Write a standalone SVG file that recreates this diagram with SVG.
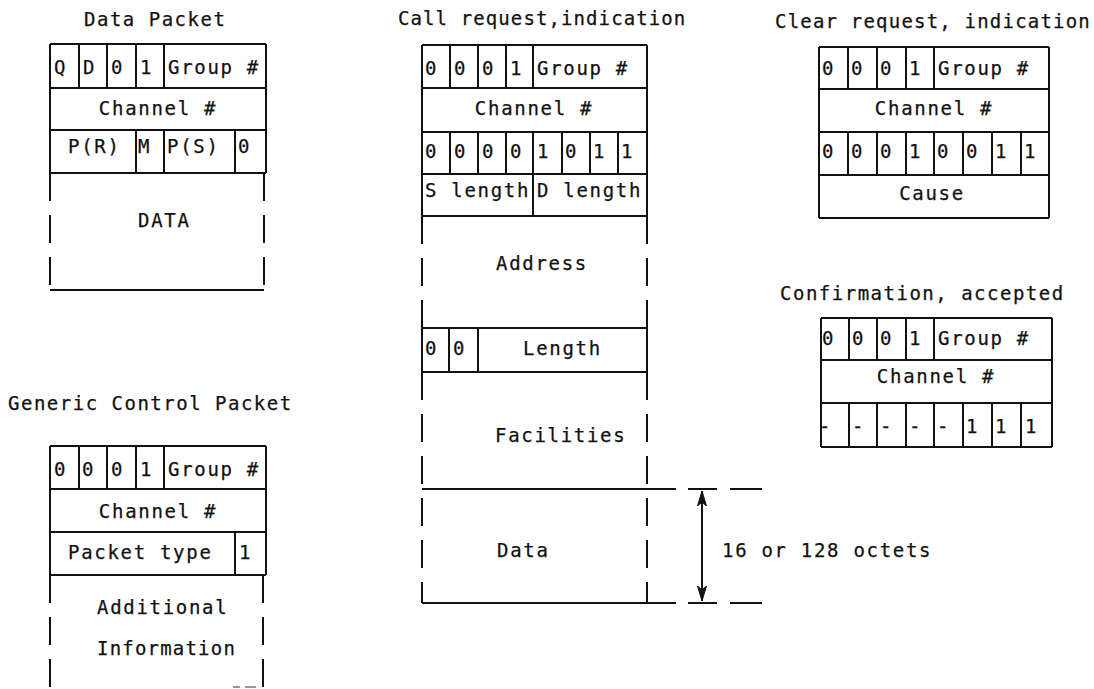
<svg xmlns="http://www.w3.org/2000/svg" width="1094" height="689" viewBox="0 0 1094 689">
<defs>
<style>
text{font-family:"DejaVu Sans Mono","Liberation Mono",monospace;font-size:19px;fill:#111;letter-spacing:1.7px;stroke:#111;stroke-width:0.25}
.t{letter-spacing:1.5px}
.c{text-anchor:middle}
line,path{stroke:#111;stroke-width:2;fill:none}
.d{stroke-dasharray:28 14}
</style>
<marker id="ah" viewBox="0 0 16 10" refX="15" refY="5" markerWidth="16" markerHeight="10" markerUnits="userSpaceOnUse" orient="auto">
<path d="M0,0.5 L15,5 L0,9.5 L4,5 Z" style="stroke:#111;stroke-width:1;fill:#111"/>
</marker>
</defs>
<rect width="1094" height="689" fill="#fff"/>

<g id="data-packet">
<text class="t" x="84" y="26">Data Packet</text>
<line x1="50" y1="44" x2="266" y2="44"/>
<line x1="50" y1="88" x2="266" y2="88"/>
<line x1="50" y1="130" x2="266" y2="130"/>
<line x1="50" y1="173" x2="266" y2="173"/>
<line x1="50" y1="44" x2="50" y2="173"/>
<line x1="266" y1="44" x2="266" y2="173"/>
<line x1="79" y1="44" x2="79" y2="88"/>
<line x1="107" y1="44" x2="107" y2="88"/>
<line x1="136" y1="44" x2="136" y2="88"/>
<line x1="164" y1="44" x2="164" y2="88"/>
<line x1="136" y1="130" x2="136" y2="173"/>
<line x1="164" y1="130" x2="164" y2="173"/>
<line x1="235" y1="130" x2="235" y2="173"/>
<line class="d" x1="50" y1="173" x2="50" y2="290"/>
<line class="d" x1="264" y1="173" x2="264" y2="290"/>
<line x1="50" y1="290" x2="264" y2="290"/>
<text x="54" y="74">Q</text><text x="83" y="74">D</text><text x="111" y="74">0</text><text x="140" y="74">1</text><text x="168" y="74">Group #</text>
<text class="c" x="158" y="115">Channel #</text>
<text x="68" y="153">P(R)</text><text x="138" y="153">M</text><text x="167" y="153">P(S)</text><text x="238" y="153">0</text>
<text x="138" y="227">DATA</text>
</g>

<g id="generic-control-packet">
<text class="t" x="8" y="410">Generic Control Packet</text>
<line x1="50" y1="446" x2="266" y2="446"/>
<line x1="50" y1="489" x2="266" y2="489"/>
<line x1="50" y1="532" x2="266" y2="532"/>
<line x1="50" y1="575" x2="266" y2="575"/>
<line x1="50" y1="446" x2="50" y2="575"/>
<line x1="266" y1="446" x2="266" y2="575"/>
<line x1="79" y1="446" x2="79" y2="489"/>
<line x1="107" y1="446" x2="107" y2="489"/>
<line x1="136" y1="446" x2="136" y2="489"/>
<line x1="164" y1="446" x2="164" y2="489"/>
<line x1="235" y1="532" x2="235" y2="575"/>
<line class="d" x1="50" y1="575" x2="50" y2="689"/>
<line class="d" x1="263" y1="575" x2="263" y2="689"/>
<line x1="233" y1="687" x2="240" y2="687" style="stroke:#999"/>
<line x1="245" y1="687" x2="256" y2="687" style="stroke:#999"/>
<text x="54" y="476">0</text><text x="82" y="476">0</text><text x="111" y="476">0</text><text x="140" y="476">1</text><text x="168" y="476">Group #</text>
<text class="c" x="158" y="518">Channel #</text>
<text x="68" y="559">Packet type</text><text x="239" y="559">1</text>
<text x="97" y="614">Additional</text>
<text x="97" y="655" style="letter-spacing:1.2px">Information</text>
</g>

<g id="call-request">
<text class="t" x="398" y="25" style="letter-spacing:1.1px">Call request,indication</text>
<line x1="422" y1="45" x2="647" y2="45"/>
<line x1="422" y1="88" x2="647" y2="88"/>
<line x1="422" y1="132" x2="647" y2="132"/>
<line x1="422" y1="174" x2="647" y2="174"/>
<line x1="422" y1="216" x2="647" y2="216"/>
<line x1="422" y1="45" x2="422" y2="216"/>
<line x1="647" y1="45" x2="647" y2="216"/>
<line x1="450" y1="45" x2="450" y2="88"/>
<line x1="478" y1="45" x2="478" y2="88"/>
<line x1="506" y1="45" x2="506" y2="88"/>
<line x1="533" y1="45" x2="533" y2="88"/>
<line x1="450" y1="132" x2="450" y2="174"/>
<line x1="478" y1="132" x2="478" y2="174"/>
<line x1="506" y1="132" x2="506" y2="174"/>
<line x1="533" y1="132" x2="533" y2="174"/>
<line x1="562" y1="132" x2="562" y2="174"/>
<line x1="590" y1="132" x2="590" y2="174"/>
<line x1="618" y1="132" x2="618" y2="174"/>
<line x1="533" y1="174" x2="533" y2="216"/>
<line class="d" x1="422" y1="216" x2="422" y2="328"/>
<line class="d" x1="647" y1="216" x2="647" y2="328"/>
<line x1="422" y1="328" x2="647" y2="328"/>
<line x1="422" y1="372" x2="647" y2="372"/>
<line x1="422" y1="328" x2="422" y2="372"/>
<line x1="647" y1="328" x2="647" y2="372"/>
<line x1="449" y1="328" x2="449" y2="372"/>
<line x1="478" y1="328" x2="478" y2="372"/>
<line class="d" x1="422" y1="372" x2="422" y2="603"/>
<line class="d" x1="647" y1="372" x2="647" y2="603"/>
<line x1="422" y1="489" x2="676" y2="489"/>
<line x1="422" y1="603" x2="676" y2="603"/>
<text x="425" y="75">0</text><text x="454" y="75">0</text><text x="482" y="75">0</text><text x="510" y="75">1</text><text x="537" y="75">Group #</text>
<text class="c" x="534" y="115">Channel #</text>
<text x="425" y="158">0</text><text x="454" y="158">0</text><text x="482" y="158">0</text><text x="510" y="158">0</text><text x="537" y="158">1</text><text x="565" y="158">0</text><text x="593" y="158">1</text><text x="621" y="158">1</text>
<text x="425" y="197">S length</text><text x="537" y="197">D length</text>
<text x="496" y="270">Address</text>
<text x="425" y="355">0</text><text x="453" y="355">0</text><text x="523" y="355">Length</text>
<text x="495" y="442">Facilities</text>
<text x="497" y="557">Data</text>
</g>

<g id="clear-request">
<text class="t" x="775" y="28" style="letter-spacing:1.2px">Clear request, indication</text>
<line x1="819" y1="47" x2="1049" y2="47"/>
<line x1="819" y1="89" x2="1049" y2="89"/>
<line x1="819" y1="132" x2="1049" y2="132"/>
<line x1="819" y1="175" x2="1049" y2="175"/>
<line x1="819" y1="218" x2="1049" y2="218"/>
<line x1="819" y1="47" x2="819" y2="218"/>
<line x1="1049" y1="47" x2="1049" y2="218"/>
<line x1="848" y1="47" x2="848" y2="89"/>
<line x1="877" y1="47" x2="877" y2="89"/>
<line x1="906" y1="47" x2="906" y2="89"/>
<line x1="934" y1="47" x2="934" y2="89"/>
<line x1="848" y1="132" x2="848" y2="175"/>
<line x1="877" y1="132" x2="877" y2="175"/>
<line x1="906" y1="132" x2="906" y2="175"/>
<line x1="934" y1="132" x2="934" y2="175"/>
<line x1="963" y1="132" x2="963" y2="175"/>
<line x1="992" y1="132" x2="992" y2="175"/>
<line x1="1021" y1="132" x2="1021" y2="175"/>
<text x="822" y="75">0</text><text x="851" y="75">0</text><text x="880" y="75">0</text><text x="909" y="75">1</text><text x="938" y="75">Group #</text>
<text class="c" x="934" y="115">Channel #</text>
<text x="822" y="158">0</text><text x="851" y="158">0</text><text x="880" y="158">0</text><text x="909" y="158">1</text><text x="937" y="158">0</text><text x="966" y="158">0</text><text x="995" y="158">1</text><text x="1024" y="158">1</text>
<text class="c" x="932" y="200">Cause</text>
</g>

<g id="confirmation-accepted">
<text class="t" x="780" y="300">Confirmation, accepted</text>
<line x1="821" y1="318" x2="1052" y2="318"/>
<line x1="821" y1="360" x2="1052" y2="360"/>
<line x1="821" y1="403" x2="1052" y2="403"/>
<line x1="821" y1="447" x2="1052" y2="447"/>
<line x1="821" y1="318" x2="821" y2="447"/>
<line x1="1052" y1="318" x2="1052" y2="447"/>
<line x1="849" y1="318" x2="849" y2="360"/>
<line x1="877" y1="318" x2="877" y2="360"/>
<line x1="906" y1="318" x2="906" y2="360"/>
<line x1="934" y1="318" x2="934" y2="360"/>
<line x1="849" y1="403" x2="849" y2="447"/>
<line x1="877" y1="403" x2="877" y2="447"/>
<line x1="906" y1="403" x2="906" y2="447"/>
<line x1="934" y1="403" x2="934" y2="447"/>
<line x1="963" y1="403" x2="963" y2="447"/>
<line x1="992" y1="403" x2="992" y2="447"/>
<line x1="1021" y1="403" x2="1021" y2="447"/>
<text x="822" y="345">0</text><text x="852" y="345">0</text><text x="880" y="345">0</text><text x="909" y="345">1</text><text x="938" y="345">Group #</text>
<text class="c" x="936" y="383">Channel #</text>
<text x="819" y="433">-</text><text x="852" y="433">-</text><text x="880" y="433">-</text><text x="909" y="433">-</text><text x="937" y="433">-</text><text x="966" y="433">1</text><text x="995" y="433">1</text><text x="1025" y="433">1</text>
</g>

<g id="connectors">
<line x1="688" y1="489" x2="717" y2="489"/>
<line x1="730" y1="489" x2="762" y2="489"/>
<line x1="688" y1="603" x2="717" y2="603"/>
<line x1="730" y1="603" x2="762" y2="603"/>
<line x1="702" y1="546" x2="702" y2="491" marker-end="url(#ah)"/>
<line x1="702" y1="546" x2="702" y2="601" marker-end="url(#ah)"/>
<text x="722" y="557">16 or 128 octets</text>
</g>
</svg>
